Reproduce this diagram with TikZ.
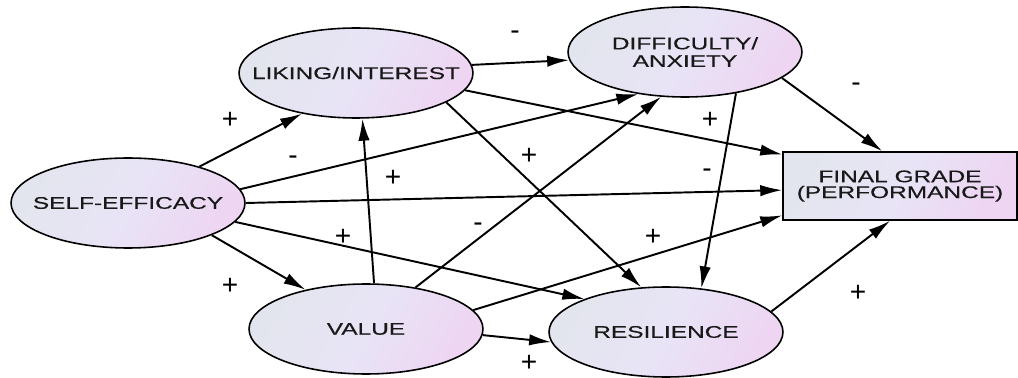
\documentclass[tikz,border=0pt]{standalone}
\usepackage{fontspec}
\setmainfont[FakeStretch=1.45,FakeBold=0.4]{Liberation Sans}
\newfontfamily\signfont{Liberation Sans}
\usetikzlibrary{arrows.meta,shapes.geometric}
\definecolor{LeftClr}{rgb}{0.890,0.898,0.933}
\definecolor{MidClr}{rgb}{0.910,0.894,0.965}
\definecolor{RightClr}{rgb}{0.933,0.835,0.949}
\definecolor{TextClr}{rgb}{0.10,0.10,0.10}

\begin{document}
\begin{tikzpicture}[x=0.02cm,y=-0.02cm,
  construct/.style={ellipse,draw=black,line width=0.9pt,inner sep=0pt,
    minimum width=4.68cm,minimum height=1.8cm,
    top color=LeftClr,bottom color=RightClr,middle color=MidClr,shading angle=60},
  outcome/.style={rectangle,draw=black,line width=0.9pt,inner sep=0pt,
    minimum width=4.68cm,minimum height=1.36cm,align=center,text=TextClr,
    font=\fontsize{9.6}{9}\selectfont,
    top color=LeftClr,bottom color=RightClr,middle color=MidClr,shading angle=60},
  link/.style={-{Latex[length=12.5pt,width=6.5pt]},line width=1.1pt},
  signlbl/.style={font=\signfont\fontsize{16}{16}\selectfont,inner sep=0pt},
  every label/.style={font=\fontsize{9.6}{10}\selectfont,text=TextClr,align=center}]
\useasboundingbox (0,0) rectangle (1018,378);

\node[construct,label=center:SELF-EFFICACY] (se) at (128,203) {};
\node[construct,label=center:LIKING/INTEREST] (li) at (356,73) {};
\node[construct,label={center:DIFFICULTY/\\ANXIETY}] (da) at (685,52) {};
\node[construct,label=center:VALUE] (va) at (366,329) {};
\node[construct,label=center:RESILIENCE] (re) at (666,332) {};
\node[outcome] (fg) at (900,186) {FINAL GRADE\\(PERFORMANCE)};

\draw[link] (se.27) -- (li.217);
\draw[link] (se.7) -- (da.222);
\draw[link] (se.0) -- (fg.182);
\draw[link] (se.-10) -- (re.158);
\draw[link] (se.-21) -- (va.147);
\draw[link] (li.4) -- (da.184);
\draw[link] (li.-9) -- (fg.165);
\draw[link] (li.-18) -- (re.119);
\draw[link] (da.-39) -- (re.51);
\draw[link] (da.-15) -- (fg.117);
\draw[link] (va.80) -- (li.-82);
\draw[link] (va.40) -- (da.242);
\draw[link] (va.10) -- (fg.194);
\draw[link] (va.-3) -- (re.185);
\draw[link] (re.11) -- (fg.254);

\node[signlbl] (sLiDa) at (515,35) {-};
\node[signlbl] (sSeLi) at (230,120) {+};
\node[signlbl] (sSeDa) at (293,160) {-};
\node[signlbl] (sVaLi) at (393,178) {+};
\node[signlbl] (sLiRe) at (529,156) {+};
\node[signlbl] (sLiFg) at (710,120) {+};
\node[signlbl] (sDaRe) at (707,173) {-};
\node[signlbl] (sDaFg) at (856,87) {-};
\node[signlbl] (sVaDa) at (478,227) {-};
\node[signlbl] (sSeRe) at (343,237) {+};
\node[signlbl] (sVaFg) at (653,237) {+};
\node[signlbl] (sSeVa) at (230,286) {+};
\node[signlbl] (sReFg) at (858,293) {+};
\node[signlbl] (sVaRe) at (529,363) {+};

\end{tikzpicture}
\end{document}
